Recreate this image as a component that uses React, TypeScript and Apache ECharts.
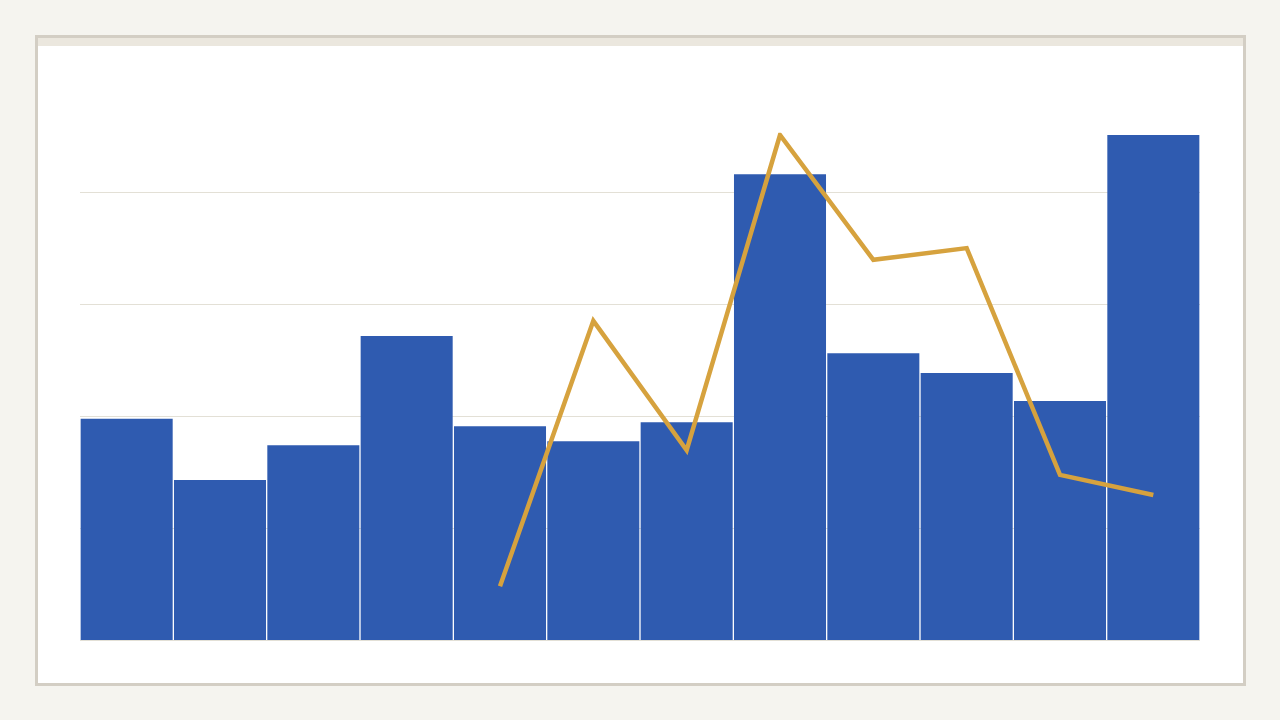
import React, { useEffect, useRef } from "react";
import * as echarts from "echarts";

const categories = ["1", "2", "3", "4", "5", "6", "7", "8", "9", "10", "11", "12"];
const barValues = [39.5, 28.6, 34.8, 54.3, 38.2, 35.5, 38.9, 83.2, 51.2, 47.7, 42.7, 90.2];
const lineValues = [null, null, null, null, 9.6, 57.0, 33.9, 90.2, 67.9, 70.0, 29.5, 25.9];

export default function App() {
  const ref = useRef<HTMLDivElement>(null);
  useEffect(() => {
    if (!ref.current) return;
    const chart = echarts.init(ref.current, null, { renderer: "svg" });
    chart.setOption({
      animation: false,
      backgroundColor: "transparent",
      grid: { left: 80, right: 80, top: 135, bottom: 80, containLabel: false },
      xAxis: {
        type: "category",
        data: categories,
        axisLine: { show: false },
        axisTick: { show: false },
        axisLabel: { show: false },
        splitLine: { show: false },
      },
      yAxis: {
        type: "value",
        min: 0,
        max: 90.2,
        interval: 20,
        axisLine: { show: false },
        axisTick: { show: false },
        axisLabel: { show: false },
        splitLine: { show: true, showMaxLine: false, lineStyle: { color: "#e3e0d6", width: 1 } },
      },
      series: [
        {
          type: "bar",
          data: barValues,
          barCategoryGap: "1.4%",
          itemStyle: { color: "#2f5bb0" },
          z: 2,
        },
        {
          type: "line",
          data: lineValues,
          symbol: "none",
          connectNulls: false,
          lineStyle: { color: "#d6a23e", width: 4.5, join: "miter" },
          z: 3,
        },
      ],
    });
    return () => chart.dispose();
  }, []);

  return (
    <div style={{ position: "fixed", left: 0, top: 0, width: 1280, height: 720, background: "#f5f4ef" }}>
      <div
        style={{
          position: "absolute",
          left: 35,
          top: 35,
          width: 1211,
          height: 651,
          boxSizing: "border-box",
          border: "3px solid #d3cec4",
          background: "#ffffff",
        }}
      >
        <div style={{ height: 8, background: "#ebe7de" }} />
      </div>
      <div ref={ref} style={{ position: "absolute", left: 0, top: 0, width: 1280, height: 720 }} />
    </div>
  );
}
